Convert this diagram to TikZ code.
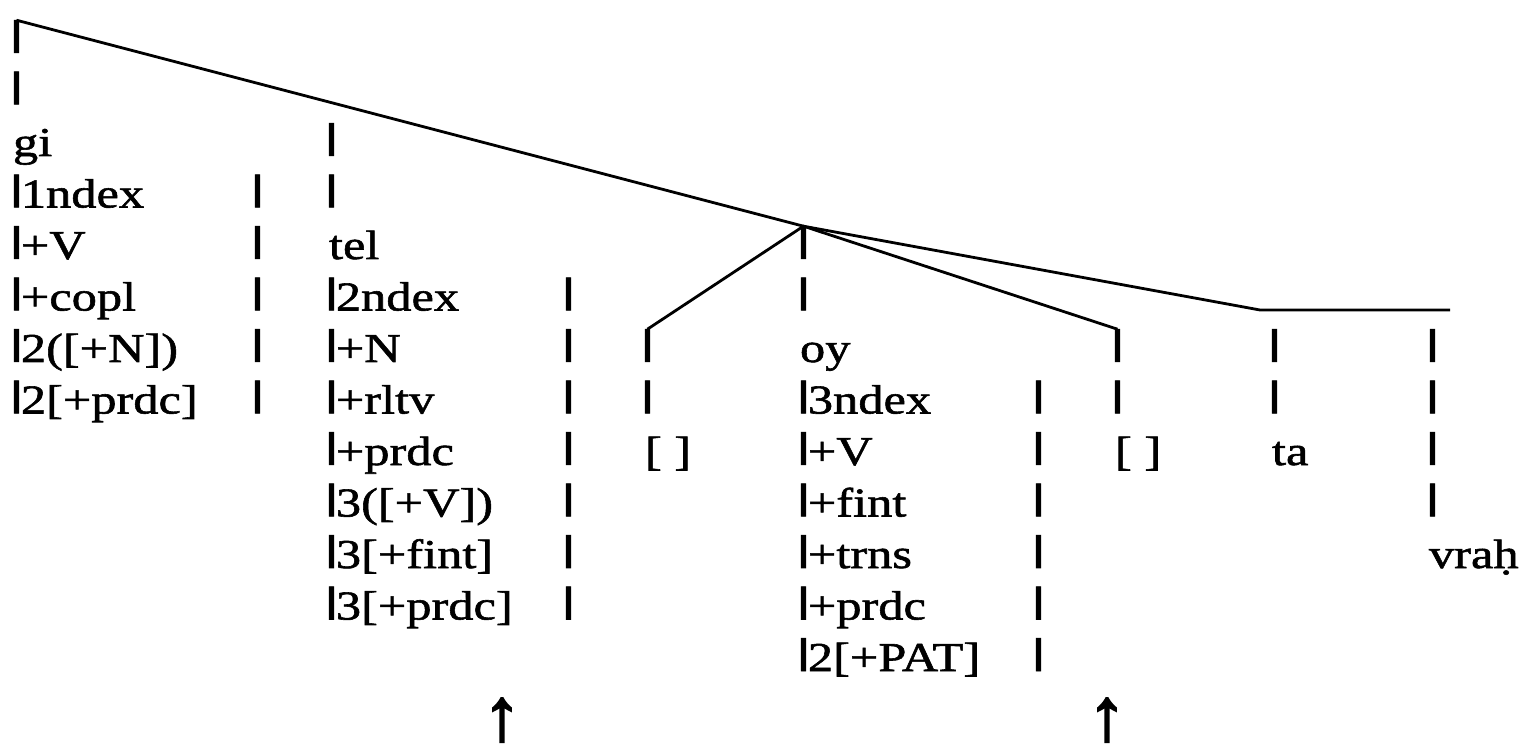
\documentclass[tikz,border=0pt]{standalone}
\usepackage{fontspec}
\setmainfont{Liberation Serif}[FakeStretch=1.23,FakeBold=1.4]
\newfontfamily\arrfont{Liberation Serif}[FakeBold=3]
\usepackage{graphicx}
\newsavebox\barbox
\newsavebox\barboxA
\newcommand\vb{\sbox\barboxA{\resizebox*{!}{0.8em}{|}}\sbox\barbox{\scalebox{1.9}[1]{\usebox\barboxA}}\raisebox{\dp\barbox}{\makebox[\wd\barboxA][c]{\usebox\barbox}}}
\tikzset{
  txt/.style={anchor=base west,inner sep=0pt,outer sep=0pt,font=\fontsize{20.5pt}{25pt}\selectfont},
  tree/.style={line width=1.4pt,line join=miter},
  uparr/.style={anchor=south,inner sep=0pt,outer sep=0pt,font=\arrfont\fontsize{37pt}{38pt}\selectfont}
}
\newcommand\rw[4]{\node[txt] (#1) at (#2,{156+51.5*(#3)}) {#4};}
\begin{document}
\begin{tikzpicture}[x=0.5pt,y=-0.5pt]
\useasboundingbox (0,0) rectangle (1535,748);
% gi column
\rw{gm2}{12}{-2}{\vb}
\rw{gm1}{12}{-1}{\vb}
\rw{gi0}{13}{0}{gi}
\rw{gi1}{12}{1}{\vb1ndex}
\rw{gi2}{12}{2}{\vb+V}
\rw{gi3}{12}{3}{\vb+copl}
\rw{gi4}{12}{4}{\vb2([+N])}
\rw{gi5}{12}{5}{\vb2[+prdc]}
% gi separator
\foreach \k in {1,...,5}{\rw{gs\k}{253}{\k}{\vb}}
% tel column
\rw{tb0}{327}{0}{\vb}
\rw{tb1}{327}{1}{\vb}
\rw{te2}{329}{2}{tel}
\rw{te3}{327}{3}{\vb2ndex}
\rw{te4}{327}{4}{\vb+N}
\rw{te5}{327}{5}{\vb+rltv}
\rw{te6}{327}{6}{\vb+prdc}
\rw{te7}{327}{7}{\vb3([+V])}
\rw{te8}{327}{8}{\vb3[+fint]}
\rw{te9}{327}{9}{\vb3[+prdc]}
% tel separator
\foreach \k in {3,...,9}{\rw{ts\k}{564}{\k}{\vb}}
% left [ ] column
\rw{lb4}{643}{4}{\vb}
\rw{lb5}{643}{5}{\vb}
\rw{lb6}{645}{6}{[ ]}
% oy column
\rw{ob2}{799}{2}{\vb}
\rw{ob3}{799}{3}{\vb}
\rw{oy4}{800}{4}{oy}
\rw{oy5}{799}{5}{\vb3ndex}
\rw{oy6}{799}{6}{\vb+V}
\rw{oy7}{799}{7}{\vb+fint}
\rw{oy8}{799}{8}{\vb+trns}
\rw{oy9}{799}{9}{\vb+prdc}
\rw{oy10}{799}{10}{\vb2[+PAT]}
% oy separator
\foreach \k in {5,...,10}{\rw{os\k}{1034}{\k}{\vb}}
% right [ ] column
\rw{rb4}{1113}{4}{\vb}
\rw{rb5}{1113}{5}{\vb}
\rw{rb6}{1115}{6}{[ ]}
% ta column
\rw{ta4}{1270}{4}{\vb}
\rw{ta5}{1270}{5}{\vb}
\rw{ta6}{1272}{6}{ta}
% vrah column
\foreach \k in {4,...,7}{\rw{vb\k}{1428}{\k}{\vb}}
\rw{vr8}{1429}{8}{vraḥ}
% tree lines
\coordinate (bend) at (1260,310);
\coordinate (rend) at (1450,310);
\draw[tree] (gm2.north) -- (ob2.north) -- (bend) -- (rend);
\draw[tree] (lb4.north) -- (ob2.north) -- (rb4.north);
% arrows
\node[uparr] (arL) at (502,742) {↑};
\node[uparr] (arR) at (1107,742) {↑};
\end{tikzpicture}
\end{document}
